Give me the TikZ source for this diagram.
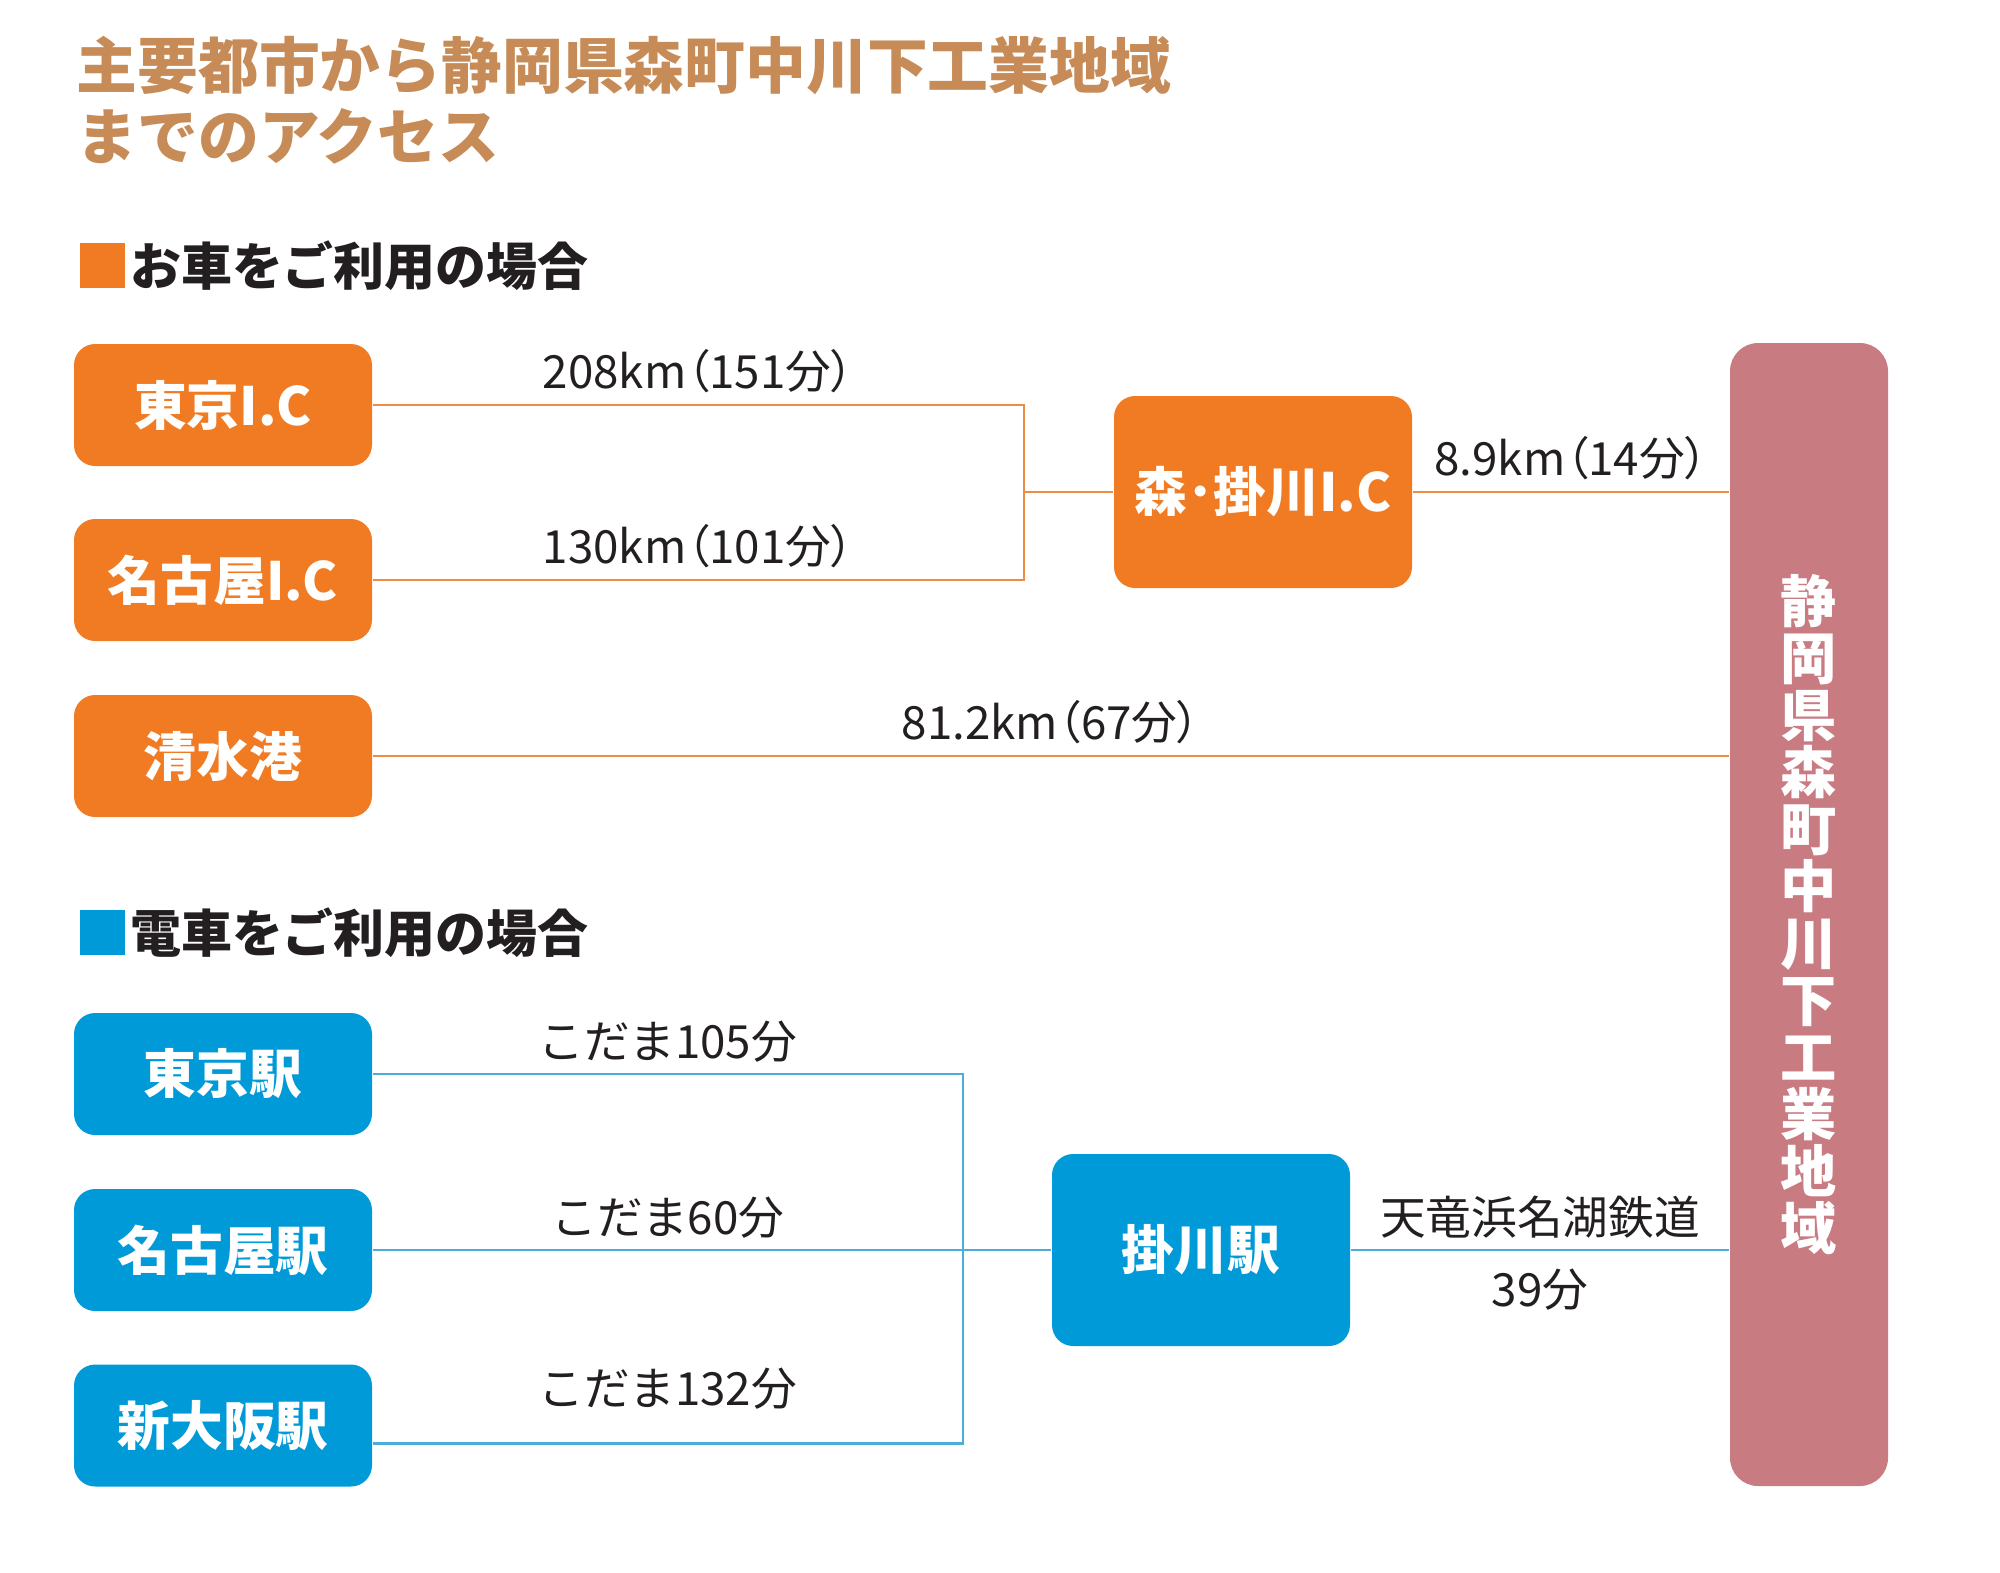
\documentclass[tikz,border=0pt]{standalone}
\usepackage{fontspec}
\setmainfont{Noto Sans CJK JP}
\newfontfamily\paltfont{Noto Sans CJK JP}[RawFeature=+palt]
\newcommand\lpar{{\paltfont （}}
\newcommand\rpar{{\paltfont ）}}
\usetikzlibrary{positioning,calc}
\definecolor{acorange}{HTML}{F07B22}
\definecolor{acblue}{HTML}{009AD8}
\definecolor{acpink}{HTML}{C97B82}
\definecolor{actitle}{HTML}{C68B56}
\definecolor{acdark}{HTML}{231F20}
\definecolor{acoline}{HTML}{EE8B45}
\definecolor{acbline}{HTML}{4AAED8}

\begin{document}
\begin{tikzpicture}[
  carbox/.style={
    rectangle, fill=acorange, rounded corners=6pt,
    minimum width=2.98cm, minimum height=1.22cm, align=center,
    text=white, font=\fontsize{15}{18}\selectfont\bfseries
  },
  trainbox/.style={
    rectangle, fill=acblue, rounded corners=6pt,
    minimum width=2.98cm, minimum height=1.22cm, align=center,
    text=white, font=\fontsize{15}{18}\selectfont\bfseries
  },
  hubbox/.style={minimum height=1.92cm},
  head/.style={
    anchor=west, inner sep=0pt, text=acdark,
    font=\fontsize{14.5}{17}\selectfont\bfseries
  },
  sqr/.style={rectangle, minimum size=0.45cm, inner sep=0pt, anchor=north west},
  lbl/.style={text=acdark, inner sep=3pt, font=\fontsize{13}{15}\selectfont},
  carline/.style={draw=acoline, line width=0.7pt},
  trainline/.style={draw=acbline, line width=0.7pt},
]
  \useasboundingbox (0,0) rectangle (20,-15.72);

  % Title
  \node[anchor=north west, inner sep=0pt, align=left, text=actitle,
    font=\fontsize{17.3}{20.4}\selectfont\bfseries] (title) at (0.76,-0.35)
    {主要都市から静岡県森町中川下工業地域\\までのアクセス};

  % Destination
  \node[rectangle, fill=acpink, rounded corners=8pt, minimum width=1.58cm,
    minimum height=11.43cm] (dest) at (18.09,-9.145) {};
  \node[text=white, align=center, font=\fontsize{16}{16.2}\selectfont\bfseries]
    (destlbl) at (dest.center)
    {静\\岡\\県\\森\\町\\中\\川\\下\\工\\業\\地\\域};

  % By car
  \node[sqr, fill=acorange] (sq1) at (0.79,-2.42) {};
  \node[head, right=0.04cm of sq1] (head1) {お車をご利用の場合};

  \node[carbox] (tkic) at (2.23,-4.05) {東京I.C};
  \node[carbox] (ngic) at (2.23,-5.80) {名古屋I.C};
  \node[carbox] (shmz) at (2.23,-7.56) {清水港};
  \node[carbox, hubbox] (mkic) at (12.63,-4.92) {森･掛川I.C};
  \coordinate (jc1) at (10.24,-4.92);

  \draw[carline] (tkic.east) -- (tkic.east -| jc1)
    node[lbl, midway, above] (d1) {208km\lpar 151分\rpar}
    -- (ngic.east -| jc1) -- (ngic.east)
    node[lbl, midway, above] (d2) {130km\lpar 101分\rpar};
  \draw[carline] (jc1) -- (mkic);
  \draw[carline] (mkic) -- (mkic -| dest.west)
    node[lbl, midway, above] (d3) {8.9km\lpar 14分\rpar};
  \draw[carline] (shmz) -- (shmz -| dest.west)
    node[lbl, midway, above] (d4) {81.2km\lpar 67分\rpar};

  % By train
  \node[sqr, fill=acblue] (sq2) at (0.79,-9.09) {};
  \node[head, right=0.04cm of sq2] (head2) {電車をご利用の場合};

  \node[trainbox] (tkst) at (2.23,-10.74) {東京駅};
  \node[trainbox] (ngst) at (2.23,-12.50) {名古屋駅};
  \node[trainbox] (osst) at (2.23,-14.255) {新大阪駅};
  \node[trainbox, hubbox] (kkst) at (12.01,-12.50) {掛川駅};
  \coordinate (jc2) at (9.63,-12.50);
  \coordinate (os) at ($(osst.east)+(0,-0.18)$);

  \draw[trainline] (tkst.east) -- (tkst.east -| jc2)
    node[lbl, midway, above] (t1) {こだま105分}
    -- (os -| jc2) -- (os)
    node[lbl, midway, above=0.22cm] (t3) {こだま132分};
  \draw[trainline] (ngst) -- (kkst);
  \node[lbl, above] (t2) at ($(ngst.east)!0.5!(jc2)$) {こだま60分};
  \draw[trainline] (kkst) -- (kkst -| dest.west)
    node[lbl, midway, above] (t4) {天竜浜名湖鉄道}
    node[lbl, midway, below=0.07cm] (t5) {39分};
\end{tikzpicture}
\end{document}
